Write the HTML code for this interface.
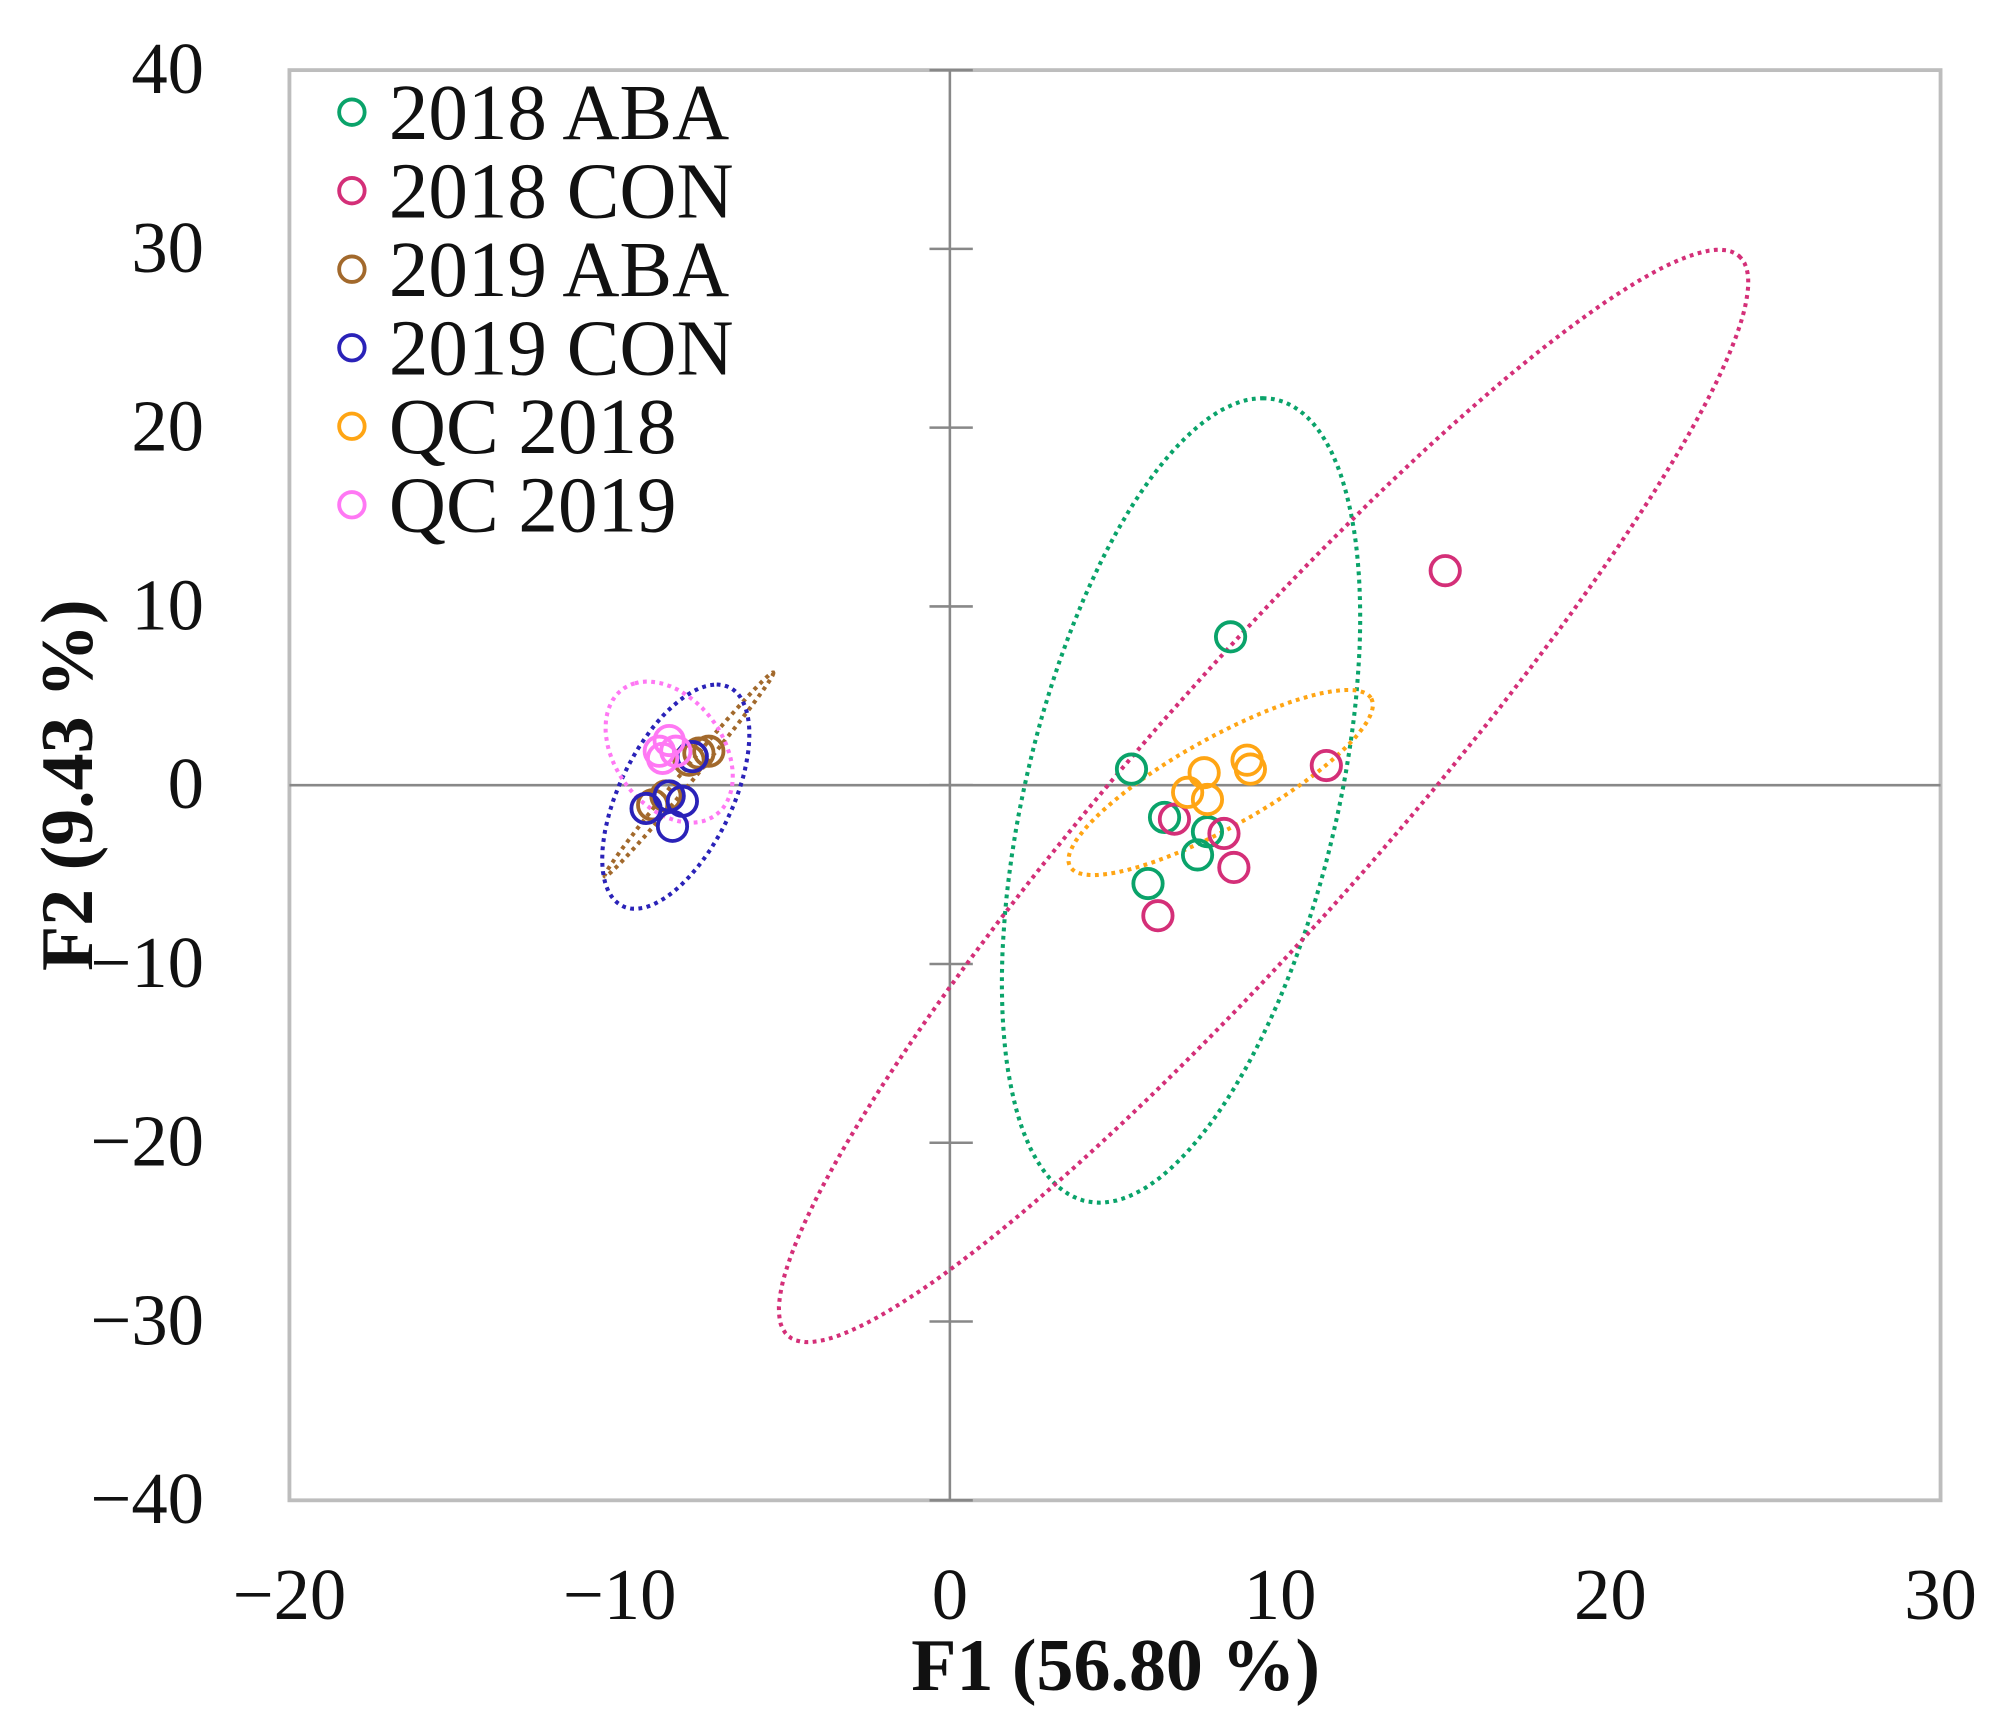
<!DOCTYPE html>
<html><head><meta charset="utf-8"><style>
html,body{margin:0;padding:0;background:#fff;}
svg{display:block;}
text{font-family:"Liberation Serif",serif;fill:#111;}
</style></head><body>
<svg id="chart" width="1989" height="1717" viewBox="0 0 1560 1347" preserveAspectRatio="none" xmlns="http://www.w3.org/2000/svg">
<g id="plot"></g>
</svg>
<script>
const xTicks = [-20, -10, 0, 10, 20, 30];
const yTicks = [-40, -30, -20, -10, 0, 10, 20, 30, 40];
const seriesNames = ["2018 ABA", "2018 CON", "2019 ABA", "2019 CON", "QC 2018", "QC 2019"];
const seriesColors = ["#0aa36a", "#d42f78", "#a2692c", "#2a22b8", "#ffa514", "#ff78f4"];
const aba2018 = [[5.5,0.9],[6.5,-1.8],[7.5,-3.9],[7.8,-2.6],[6.0,-5.5],[8.5,8.3]];
const con2018 = [[15.0,12.0],[11.4,1.1],[6.8,-1.9],[8.3,-2.7],[8.6,-4.6],[6.3,-7.3]];
const aba2019 = [[-7.6,1.8],[-7.3,1.9],[-7.9,1.4],[-8.6,-0.6],[-9.0,-1.1]];
const con2019 = [[-7.8,1.6],[-9.2,-1.3],[-8.5,-0.6],[-8.1,-0.9],[-8.4,-2.3]];
const qc2018 = [[7.7,0.7],[7.2,-0.4],[7.8,-0.8],[9.0,1.4],[9.1,0.9]];
const qc2019 = [[-8.8,1.9],[-8.5,2.5],[-8.7,1.5],[-8.3,1.9]];
// ellipses: center, conjugate semi-axis vectors (data units)
const ellAba2018 = {c:[7.0,-0.85], u:[2.47,22.5], v:[4.83,0]};
const ellCon2018 = {c:[9.5,-0.6], u:[14.4,30.2], v:[2.84,-4.62]};
const ellAba2019 = {c:[-7.9,0.6], u:[2.55,5.7], v:[0.15,-0.23]};
const ellCon2019 = {c:[-8.3,-0.64], u:[1.24,6.27], v:[1.85,0]};
const ellQc2018 = {c:[8.2,0.15], u:[4.56,4.7], v:[0.66,-2.17]};
const ellQc2019 = {c:[-8.5,1.85], u:[-1.04,3.85], v:[1.62,0.86]};

const L=227,R=1522,T=55,B=1177;
const xMin=-20,xMax=30,yMin=-40,yMax=40;
function sx(v){return L+(v-xMin)/(xMax-xMin)*(R-L);}
function sy(v){return B-(v-yMin)/(yMax-yMin)*(B-T);}
const NS="http://www.w3.org/2000/svg";
const g=document.getElementById('plot');
function el(tag,attrs,parent){const e=document.createElementNS(NS,tag);for(const k in attrs)e.setAttribute(k,attrs[k]);(parent||g).appendChild(e);return e;}

let fr=el('rect',{x:L,y:T,width:R-L,height:B-T,fill:'#fff',stroke:'#bdbdbd','stroke-width':3});


let ax=el('line',{x1:sx(0),x2:sx(0),y1:T,y2:B,stroke:'#888','stroke-width':2});


let ay=el('line',{x1:L,x2:R,y1:sy(0),y2:sy(0),stroke:'#888','stroke-width':2});


yTicks.forEach(t=>{
  let tk=el('line',{x1:sx(0)-16,x2:sx(0)+18,y1:sy(t),y2:sy(t),stroke:'#888','stroke-width':2});
  
  
  let lb=el('text',{x:160,y:sy(t)+18,'text-anchor':'end','font-size':57});
  lb.textContent=(t<0?'\u2212':'')+Math.abs(t);
  
  
});
xTicks.forEach(t=>{
  let lb=el('text',{x:sx(t),y:1270,'text-anchor':'middle','font-size':57});
  lb.textContent=(t<0?'\u2212':'')+Math.abs(t);
  
  
});
let xt=el('text',{x:875,y:1326,'text-anchor':'middle','font-size':58,'font-weight':'bold'});
xt.textContent='F1 (56.80 %)';


let yt=el('text',{x:0,y:0,'text-anchor':'middle','font-size':58,'font-weight':'bold',transform:'translate(72,616) rotate(-90)'});
yt.textContent='F2 (9.43 %)';



const ells=[ellAba2018,ellCon2018,ellAba2019,ellCon2019,ellQc2018,ellQc2019];
const pts=[aba2018,con2018,aba2019,con2019,qc2018,qc2019];
ells.forEach((e,i)=>{
  let d='';
  for(let k=0;k<=180;k++){const a=k/180*2*Math.PI;
    const x=e.c[0]+e.u[0]*Math.cos(a)+e.v[0]*Math.sin(a);
    const y=e.c[1]+e.u[1]*Math.cos(a)+e.v[1]*Math.sin(a);
    d+=(k?'L':'M')+sx(x).toFixed(1)+','+sy(y).toFixed(1);}
  let p=el('path',{d:d+'Z',fill:'none',stroke:seriesColors[i],'stroke-width':3.2,'stroke-dasharray':'3 3.5'});
  
  
});
pts.forEach((s,i)=>{
  s.forEach(pt=>{
    let c=el('circle',{cx:sx(pt[0]),cy:sy(pt[1]),r:11.5,fill:'none',stroke:seriesColors[i],'stroke-width':3});
    
    
  });
});
seriesNames.forEach((n,i)=>{
  const y=88+i*61.6;
  let c=el('circle',{cx:276,cy:y,r:10,fill:'none',stroke:seriesColors[i],'stroke-width':3});
  
  
  let t=el('text',{x:305,y:y+21,'font-size':62});
  t.textContent=n;
  
  
});
</script>
</body></html>
